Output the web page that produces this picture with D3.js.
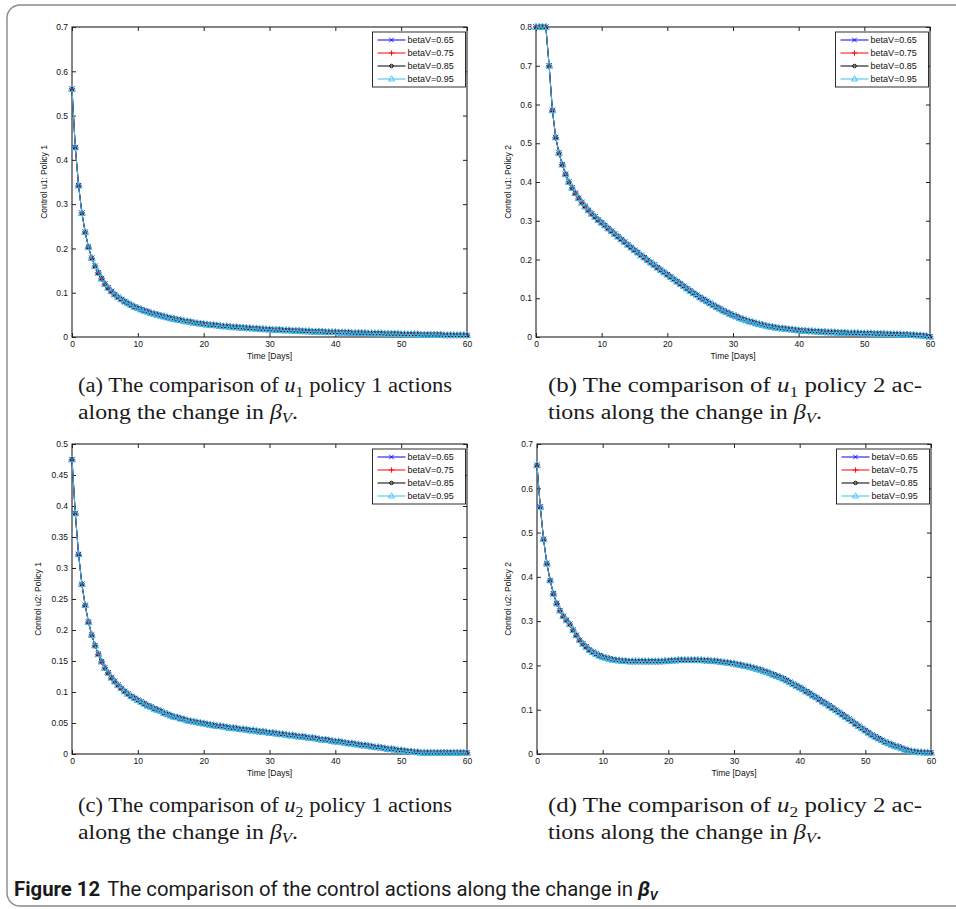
<!DOCTYPE html>
<html lang="en">
<head>
<meta charset="utf-8">
<title>Figure 12</title>
<script src="https://cdn.jsdelivr.net/npm/d3@7/dist/d3.min.js"></script>
<style>
  html, body { margin: 0; padding: 0; background: #fff; }
  svg { display: block; }
</style>
</head>
<body>
<svg id="figure" width="956" height="909"></svg>
<script>
// Sampling interval of the optimal-control solution (days)
const STEP_DAYS = 0.5;

const xTickValues = [0, 10, 20, 30, 40, 50, 60];
const yTicksU1P1 = [0, 0.1, 0.2, 0.3, 0.4, 0.5, 0.6, 0.7];
const yTicksU1P2 = [0, 0.1, 0.2, 0.3, 0.4, 0.5, 0.6, 0.7, 0.8];
const yTicksU2P1 = [0, 0.05, 0.1, 0.15, 0.2, 0.25, 0.3, 0.35, 0.4, 0.45, 0.5];
const yTicksU2P2 = [0, 0.1, 0.2, 0.3, 0.4, 0.5, 0.6, 0.7];

const legendLabels = ["betaV=0.65", "betaV=0.75", "betaV=0.85", "betaV=0.95"];

// Control profiles, one sample every STEP_DAYS from day 0 to day 60 (10 samples = 5 days per row).
const u1Policy1 = [
  0.560, 0.428, 0.342, 0.280, 0.237, 0.203, 0.178, 0.160, 0.145, 0.132,
  0.120, 0.111, 0.103, 0.096, 0.090, 0.085, 0.080, 0.076, 0.072, 0.068,
  0.065, 0.062, 0.059, 0.057, 0.054, 0.052, 0.050, 0.048, 0.046, 0.044,
  0.042, 0.041, 0.039, 0.038, 0.036, 0.035, 0.034, 0.032, 0.031, 0.030,
  0.029, 0.028, 0.027, 0.027, 0.026, 0.025, 0.024, 0.024, 0.023, 0.022,
  0.022, 0.021, 0.021, 0.020, 0.020, 0.019, 0.019, 0.018, 0.018, 0.017,
  0.017, 0.016, 0.016, 0.016, 0.015, 0.015, 0.015, 0.014, 0.014, 0.014,
  0.013, 0.013, 0.013, 0.012, 0.012, 0.012, 0.012, 0.011, 0.011, 0.011,
  0.011, 0.010, 0.010, 0.010, 0.010, 0.009, 0.009, 0.009, 0.009, 0.009,
  0.008, 0.008, 0.008, 0.008, 0.008, 0.007, 0.007, 0.007, 0.007, 0.007,
  0.006, 0.006, 0.006, 0.006, 0.006, 0.006, 0.005, 0.005, 0.005, 0.005,
  0.005, 0.005, 0.005, 0.004, 0.004, 0.004, 0.004, 0.004, 0.004, 0.004,
  0.004
];

const u1Policy2 = [
  0.800, 0.800, 0.800, 0.800, 0.700, 0.585, 0.515, 0.475, 0.445, 0.420,
  0.400, 0.385, 0.371, 0.358, 0.347, 0.337, 0.327, 0.318, 0.310, 0.302,
  0.295, 0.288, 0.280, 0.273, 0.266, 0.259, 0.252, 0.245, 0.238, 0.231,
  0.224, 0.218, 0.211, 0.205, 0.198, 0.192, 0.186, 0.179, 0.173, 0.167,
  0.161, 0.155, 0.149, 0.143, 0.137, 0.131, 0.125, 0.119, 0.113, 0.108,
  0.102, 0.097, 0.092, 0.087, 0.082, 0.077, 0.073, 0.068, 0.064, 0.060,
  0.056, 0.053, 0.049, 0.046, 0.043, 0.040, 0.038, 0.035, 0.033, 0.031,
  0.029, 0.027, 0.026, 0.024, 0.023, 0.022, 0.021, 0.020, 0.019, 0.018,
  0.017, 0.016, 0.016, 0.015, 0.015, 0.014, 0.014, 0.013, 0.013, 0.012,
  0.012, 0.012, 0.011, 0.011, 0.011, 0.010, 0.010, 0.010, 0.010, 0.009,
  0.009, 0.009, 0.009, 0.008, 0.008, 0.008, 0.008, 0.007, 0.007, 0.007,
  0.007, 0.006, 0.006, 0.006, 0.005, 0.005, 0.004, 0.004, 0.003, 0.002,
  0.001
];

const u2Policy1 = [
  0.475, 0.388, 0.322, 0.274, 0.240, 0.213, 0.192, 0.175, 0.161, 0.149,
  0.139, 0.131, 0.123, 0.117, 0.111, 0.106, 0.101, 0.097, 0.093, 0.090,
  0.087, 0.084, 0.081, 0.078, 0.076, 0.073, 0.071, 0.069, 0.066, 0.064,
  0.062, 0.060, 0.059, 0.057, 0.056, 0.054, 0.053, 0.052, 0.051, 0.050,
  0.049, 0.048, 0.047, 0.046, 0.045, 0.045, 0.044, 0.043, 0.042, 0.042,
  0.041, 0.040, 0.040, 0.039, 0.038, 0.038, 0.037, 0.036, 0.036, 0.035,
  0.034, 0.034, 0.033, 0.032, 0.032, 0.031, 0.030, 0.030, 0.029, 0.028,
  0.028, 0.027, 0.026, 0.026, 0.025, 0.024, 0.023, 0.023, 0.022, 0.021,
  0.020, 0.020, 0.019, 0.018, 0.017, 0.017, 0.016, 0.015, 0.014, 0.014,
  0.013, 0.012, 0.011, 0.011, 0.010, 0.009, 0.008, 0.008, 0.007, 0.006,
  0.006, 0.005, 0.004, 0.004, 0.003, 0.003, 0.002, 0.002, 0.002, 0.002,
  0.002, 0.002, 0.002, 0.002, 0.002, 0.002, 0.002, 0.002, 0.002, 0.002,
  0.002
];

const u2Policy2 = [
  0.652, 0.558, 0.485, 0.430, 0.392, 0.362, 0.340, 0.324, 0.311, 0.302,
  0.293, 0.280, 0.268, 0.257, 0.249, 0.242, 0.235, 0.230, 0.226, 0.222,
  0.219, 0.217, 0.215, 0.213, 0.212, 0.211, 0.210, 0.210, 0.209, 0.209,
  0.209, 0.209, 0.209, 0.209, 0.209, 0.209, 0.209, 0.209, 0.209, 0.210,
  0.210, 0.211, 0.211, 0.212, 0.212, 0.212, 0.212, 0.212, 0.212, 0.212,
  0.212, 0.211, 0.211, 0.210, 0.210, 0.209, 0.208, 0.207, 0.206, 0.205,
  0.204, 0.202, 0.201, 0.199, 0.198, 0.196, 0.194, 0.192, 0.190, 0.187,
  0.185, 0.182, 0.179, 0.176, 0.173, 0.170, 0.166, 0.162, 0.158, 0.154,
  0.150, 0.146, 0.141, 0.137, 0.132, 0.128, 0.123, 0.118, 0.114, 0.109,
  0.104, 0.099, 0.094, 0.089, 0.084, 0.079, 0.074, 0.068, 0.063, 0.058,
  0.053, 0.048, 0.043, 0.039, 0.035, 0.031, 0.027, 0.024, 0.021, 0.018,
  0.016, 0.013, 0.010, 0.008, 0.006, 0.005, 0.004, 0.004, 0.003, 0.003,
  0.003
];

// The four betaV runs coincide to plotting precision, so every run shares its panel's profile.
const runsU1P1 = [u1Policy1, u1Policy1, u1Policy1, u1Policy1];
const runsU1P2 = [u1Policy2, u1Policy2, u1Policy2, u1Policy2];
const runsU2P1 = [u2Policy1, u2Policy1, u2Policy1, u2Policy1];
const runsU2P2 = [u2Policy2, u2Policy2, u2Policy2, u2Policy2];

// ---------------------------------------------------------------------------
const AXIS_FONT = "'Liberation Sans', Arial, Helvetica, sans-serif";
const SERIF_FONT = "'Liberation Serif', 'Times New Roman', serif";
const AXIS_COLOR = "#222";

const runStyles = [
  { color: "#0000ff", marker: "x", r: 2.6 },
  { color: "#ff0000", marker: "+", r: 3.2 },
  { color: "#000000", marker: "o", r: 2.1 },
  { color: "#3dbfef", marker: "^", r: 3.8 }
];

function markerPath(kind, r) {
  const p = d3.path();
  if (kind === "x") {
    p.moveTo(-r, -r); p.lineTo(r, r); p.moveTo(-r, r); p.lineTo(r, -r);
  } else if (kind === "+") {
    p.moveTo(-r, 0); p.lineTo(r, 0); p.moveTo(0, -r); p.lineTo(0, r);
  } else if (kind === "o") {
    p.moveTo(r, 0); p.arc(0, 0, r, 0, 2 * Math.PI);
  } else {
    p.moveTo(0, -r); p.lineTo(r * 0.92, r * 0.62); p.lineTo(-r * 0.92, r * 0.62); p.closePath();
  }
  return p.toString();
}

const svg = d3.select("#figure");

// Rounded frame around the figure (open on the right)
svg.append("path")
  .attr("d", "M 990 5 H 20 A 13 13 0 0 0 7 18 V 893 A 13 13 0 0 0 20 906 H 990")
  .attr("fill", "none").attr("stroke", "#8a8a8a").attr("stroke-width", 1.4);

const panels = [
  { runs: runsU1P1, yMax: 0.7, yTicks: yTicksU1P1, yLabel: "Control u1: Policy 1",
    box: [72, 27, 467, 337], yLabelX: 44,
    caption: { x: 78, y: 392, widths: [374, 220], lines: [
      [{ t: "(a) The comparison of " }, { t: "u", it: true }, { t: "1", sub: true }, { t: " policy 1 actions" }],
      [{ t: "along the change in " }, { t: "β", it: true }, { t: "V", it: true, sub: true }, { t: "." }]
    ] } },
  { runs: runsU1P2, yMax: 0.8, yTicks: yTicksU1P2, yLabel: "Control u1: Policy 2",
    box: [536, 27, 930, 337], yLabelX: 508,
    caption: { x: 548, y: 392, widths: [374, 274], lines: [
      [{ t: "(b) The comparison of " }, { t: "u", it: true }, { t: "1", sub: true }, { t: " policy 2 ac-" }],
      [{ t: "tions along the change in " }, { t: "β", it: true }, { t: "V", it: true, sub: true }, { t: "." }]
    ] } },
  { runs: runsU2P1, yMax: 0.5, yTicks: yTicksU2P1, yLabel: "Control u2: Policy 1",
    box: [72, 444, 467, 754], yLabelX: 38,
    caption: { x: 78, y: 812, widths: [374, 220], lines: [
      [{ t: "(c) The comparison of " }, { t: "u", it: true }, { t: "2", sub: true }, { t: " policy 1 actions" }],
      [{ t: "along the change in " }, { t: "β", it: true }, { t: "V", it: true, sub: true }, { t: "." }]
    ] } },
  { runs: runsU2P2, yMax: 0.7, yTicks: yTicksU2P2, yLabel: "Control u2: Policy 2",
    box: [537, 444, 931, 754], yLabelX: 508,
    caption: { x: 548, y: 812, widths: [374, 274], lines: [
      [{ t: "(d) The comparison of " }, { t: "u", it: true }, { t: "2", sub: true }, { t: " policy 2 ac-" }],
      [{ t: "tions along the change in " }, { t: "β", it: true }, { t: "V", it: true, sub: true }, { t: "." }]
    ] } }
];

function styleAxis(sel) {
  sel.select(".domain").remove();
  sel.selectAll(".tick line").attr("stroke", AXIS_COLOR).attr("stroke-width", 1);
  sel.selectAll(".tick text")
    .attr("fill", "#111")
    .style("font-family", AXIS_FONT)
    .style("font-size", "8.5px");
}

function drawPanel(cfg) {
  const [x0, y0, x1, y1] = cfg.box;
  const x = d3.scaleLinear().domain([0, 60]).range([x0, x1]);
  const y = d3.scaleLinear().domain([0, cfg.yMax]).range([y1, y0]);
  const g = svg.append("g");

  // Axes with inward ticks on all four sides
  g.append("g").attr("transform", `translate(0,${y1})`)
    .call(d3.axisBottom(x).tickValues(xTickValues).tickSize(-4).tickPadding(3.5).tickFormat(d3.format("d")))
    .call(styleAxis);
  g.append("g").attr("transform", `translate(0,${y0})`)
    .call(d3.axisTop(x).tickValues(xTickValues).tickSize(-4).tickFormat(""))
    .call(styleAxis);
  g.append("g").attr("transform", `translate(${x0},0)`)
    .call(d3.axisLeft(y).tickValues(cfg.yTicks).tickSize(-4).tickPadding(4).tickFormat(v => String(v)))
    .call(styleAxis);
  g.append("g").attr("transform", `translate(${x1},0)`)
    .call(d3.axisRight(y).tickValues(cfg.yTicks).tickSize(-4).tickFormat(""))
    .call(styleAxis);

  g.append("rect")
    .attr("x", x0).attr("y", y0).attr("width", x1 - x0).attr("height", y1 - y0)
    .attr("fill", "none").attr("stroke", AXIS_COLOR).attr("stroke-width", 1.1);

  // Axis titles
  g.append("text")
    .attr("x", (x0 + x1) / 2).attr("y", y1 + 22)
    .attr("text-anchor", "middle")
    .style("font-family", AXIS_FONT).style("font-size", "8.5px").attr("fill", "#111")
    .text("Time [Days]");
  g.append("text")
    .attr("transform", `translate(${cfg.yLabelX},${(y0 + y1) / 2}) rotate(-90)`)
    .attr("text-anchor", "middle").attr("dy", "0.35em")
    .style("font-family", AXIS_FONT).style("font-size", "8.5px").attr("fill", "#111")
    .text(cfg.yLabel);

  // Runs: line plus a marker at every sample
  const line = d3.line().x((d, i) => x(i * STEP_DAYS)).y(d => y(d));
  cfg.runs.forEach((values, k) => {
    const st = runStyles[k];
    const rg = g.append("g");
    rg.append("path").datum(values)
      .attr("d", line).attr("fill", "none")
      .attr("stroke", st.color).attr("stroke-width", 1);
    const mp = markerPath(st.marker, st.r);
    rg.selectAll("path.mk").data(values).join("path")
      .attr("class", "mk")
      .attr("d", mp)
      .attr("transform", (d, i) => `translate(${x(i * STEP_DAYS)},${y(d)})`)
      .attr("fill", "none").attr("stroke", st.color).attr("stroke-width", 1);
  });

  // Legend
  const lw = 93, lh = 55;
  const lx = x1 - 1.5 - lw, ly = y0 + 5;
  const lg = g.append("g").attr("transform", `translate(${lx},${ly})`);
  lg.append("rect").attr("width", lw).attr("height", lh)
    .attr("fill", "#fff").attr("stroke", "#1a1a1a").attr("stroke-width", 0.9);
  legendLabels.forEach((lab, k) => {
    const st = runStyles[k];
    const ry = 8 + k * 13;
    lg.append("line").attr("x1", 5).attr("x2", 33).attr("y1", ry).attr("y2", ry)
      .attr("stroke", st.color).attr("stroke-width", 1);
    lg.append("path").attr("d", markerPath(st.marker, st.r * 0.85))
      .attr("transform", `translate(19,${ry})`)
      .attr("fill", "none").attr("stroke", st.color).attr("stroke-width", 0.9);
    lg.append("text").attr("x", 35).attr("y", ry).attr("dy", "0.35em")
      .style("font-family", AXIS_FONT).style("font-size", "9px").attr("fill", "#111")
      .text(lab);
  });

  // Sub-caption, two lines set in a serif face and fitted to the column width
  const cap = cfg.caption;
  cap.lines.forEach((segs, li) => {
    const txt = svg.append("text")
      .attr("x", cap.x).attr("y", cap.y + li * 26.5)
      .style("font-family", SERIF_FONT).style("font-size", "20px")
      .attr("fill", "#1a1a1a");
    let lowered = false;
    segs.forEach(s => {
      const ts = txt.append("tspan").text(s.t);
      if (s.it) ts.attr("font-style", "italic");
      if (s.sub && !lowered) { ts.attr("dy", 4.5).style("font-size", "14px"); lowered = true; }
      else if (s.sub) { ts.style("font-size", "14px"); }
      else if (lowered) { ts.attr("dy", -4.5); lowered = false; }
    });
    txt.attr("textLength", cap.widths[li]).attr("lengthAdjust", "spacingAndGlyphs");
  });
}

panels.forEach(drawPanel);

// Figure caption
const figCap = svg.append("text")
  .attr("x", 14).attr("y", 896)
  .style("font-family", "Roboto, 'Open Sans', sans-serif").style("font-size", "18px")
  .attr("fill", "#1a1a1a");
figCap.append("tspan").attr("font-weight", "bold").text("Figure 12");
figCap.append("tspan").attr("dx", 7).text("The comparison of the control actions along the change in ");
figCap.append("tspan").attr("font-weight", "bold").attr("font-style", "italic").text("β");
figCap.append("tspan").attr("font-weight", "bold").attr("font-style", "italic")
  .attr("dy", 4).style("font-size", "12.5px").text("V");
{
  const natural = figCap.node().getComputedTextLength();
  const scale = 638 / natural;
  figCap.style("font-size", (18 * scale).toFixed(2) + "px");
}
</script>
</body>
</html>
